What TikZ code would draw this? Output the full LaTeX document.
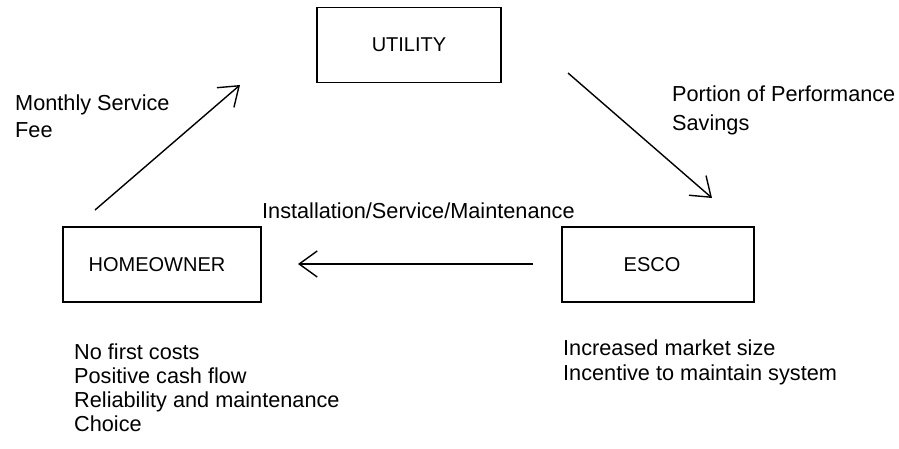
\documentclass[tikz,border=0pt]{standalone}
\usepackage{fontspec}
\setmainfont{Liberation Sans}
\usetikzlibrary{arrows.meta}
\begin{document}
\begin{tikzpicture}[x=1pt,y=-1pt,
  box/.style={draw,line width=1.8pt,minimum width=#1,minimum height=75pt,inner sep=0pt,font=\fontsize{20}{24}\selectfont},
  lbl/.style={font=\fontsize{21.7}{#1}\selectfont,inner sep=0pt,align=left,anchor=base west},
  arr/.style={line width=1.4pt,-{Straight Barb[length=18pt,width=26pt,line width=1.4pt]}}]
\useasboundingbox (0,0) rectangle (899,448);
% boxes
\node[box=184pt] (utility) at (409,45) {UTILITY};
\node[box=198pt] (home) at (162,264.5) {\hspace*{-10pt}HOMEOWNER};
\node[box=192pt] (esco) at (658,264.5) {\hspace*{-12pt}ESCO};
% arrow end points
\coordinate (m1) at (95,210);
\coordinate (m2) at (240,85);
\coordinate (p1) at (568,73);
\coordinate (p2) at (712,198);
\coordinate (h1) at (533,264);
\coordinate (h2) at (298,264);
\draw[arr] (m1) -- (m2);
\draw[arr] (p1) -- (p2);
\draw[arr] (h1) -- (h2);
% labels (anchor = baseline of the last line)
\node[lbl=27pt] (lm) at (15,137) {Monthly Service\\Fee};
\node[lbl=29pt] (lp) at (672,130) {Portion of Performance\\Savings};
\node[lbl=24pt] (li) at (262,218) {Installation/Service/Maintenance};
\node[lbl=23.8pt] (lh) at (74,431) {No first costs\\Positive cash flow\\Reliability and maintenance\\Choice};
\node[lbl=25pt] (le) at (563,380) {Increased market size\\Incentive to maintain system};
\end{tikzpicture}
\end{document}
